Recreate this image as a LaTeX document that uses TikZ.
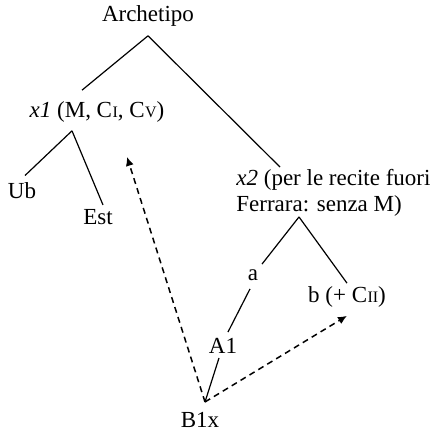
\documentclass[tikz,border=0pt]{standalone}
\usepackage{fontspec}
\setmainfont{Liberation Serif}
\usetikzlibrary{arrows.meta, positioning, calc}
\newcommand{\msc}[1]{C\kern.2pt{\fontsize{8}{8}\selectfont #1}}

\begin{document}
\begin{tikzpicture}[
    x=0.5pt, y=-0.5pt,
    font=\fontsize{11.5}{13}\selectfont,
    witness/.style={inner sep=0pt, align=center},
    branch/.style={line width=0.6pt},
    contam/.style={-{Latex[length=4.5pt, width=4pt]}, line width=0.75pt, dash pattern=on 3pt off 2.2pt}
]
\useasboundingbox (0,0) rectangle (431,432);

% Nodes
\node[witness] (arch) at (148,16) {Archetipo};
\node[witness] (x1) at (97,112) {\textit{x1} (M, \msc{I}, \msc{V})};
\node[witness] (ub) at (22,191) {Ub};
\node[witness] (est) at (98,217) {Est};
\node[witness, align=left, anchor=west] (x2) at (236,193) {\textit{x2} (per le recite fuori\\Ferrara: senza M)};
\node[witness] (a) at (253,275) {a};
\node[witness] (b) at (347,297) {b (+ \msc{II})};
\node[witness] (a1) at (223,346) {A1};
\node[witness] (b1x) at (200,420) {B1x};
\coordinate (b1xtop) at ([shift={(5,-10)}]b1x.north);

% Connections
\draw[branch] ([shift={(0,9)}]arch.south) -- ([shift={(-15,-11)}]x1.north);
\draw[branch] ([shift={(0,9)}]arch.south) -- ([shift={(44,-2)}]x2.north west);
\draw[branch] ([shift={(-25,8)}]x1.south) -- ([shift={(3,-7)}]ub.north);
\draw[branch] ([shift={(-25,8)}]x1.south) -- ([shift={(5,-4)}]est.north);
\draw[branch] ([shift={(63,0)}]x2.south west) -- ([shift={(9,-5)}]a.north);
\draw[branch] ([shift={(63,0)}]x2.south west) -- ([shift={(0,-3)}]b.north);
\draw[branch] ([shift={(-3,8)}]a.south) -- ([shift={(5,-6)}]a1.north);
\draw[branch] ([shift={(-4,4)}]a1.south) -- (b1xtop);
\draw[contam] (b1xtop) -- ([shift={(30,34)}]x1.south);
\draw[contam] (b1xtop) -- ([shift={(0,8)}]b.south);

\end{tikzpicture}
\end{document}
